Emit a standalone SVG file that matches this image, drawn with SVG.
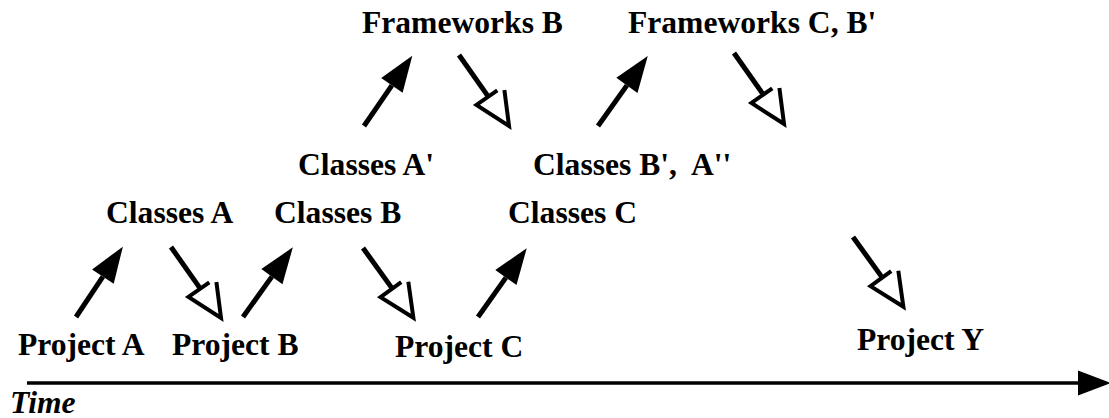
<svg xmlns="http://www.w3.org/2000/svg" width="1109" height="418" viewBox="0 0 1109 418">
<style>
.t{font-weight:bold;font-size:31.6px;fill:#000}
.it{font-style:italic}
.ln{stroke:#000;stroke-width:5;fill:none}
.opn{marker-end:url(#open)}
.sld{marker-end:url(#solid)}
</style>
<defs>
<marker id="solid" markerUnits="userSpaceOnUse" viewBox="-2 -16 40 32" refX="0" refY="0" markerWidth="40" markerHeight="32" orient="auto" overflow="visible">
<path d="M0,-13 L36,0 L0,13 Z" fill="#000"/>
</marker>
<marker id="open" markerUnits="userSpaceOnUse" viewBox="-4 -20 44 40" refX="0" refY="0" markerWidth="44" markerHeight="40" orient="auto" overflow="visible">
<path d="M3.8,-17 L36,0 L0,14.5 L0,-11" fill="#fff" stroke="#000" stroke-width="4" stroke-linejoin="miter"/>
</marker>
</defs>
<rect width="1109" height="418" fill="#fff"/>
<g id="connectors">
<line class="ln sld" x1="76" y1="317" x2="102.9" y2="276.6"/>
<line class="ln sld" x1="243" y1="317" x2="271.9" y2="276.6"/>
<line class="ln sld" x1="478" y1="317" x2="505.9" y2="277.6"/>
<line class="ln sld" x1="364" y1="126" x2="391.9" y2="85.4"/>
<line class="ln sld" x1="598" y1="126" x2="626.9" y2="85.4"/>
<line class="ln opn" x1="171" y1="247" x2="200.3" y2="288.6"/>
<line class="ln opn" x1="363" y1="248" x2="392.3" y2="288.6"/>
<line class="ln opn" x1="459" y1="55" x2="488.3" y2="96.6"/>
<line class="ln opn" x1="734" y1="53" x2="763.3" y2="94.6"/>
<line class="ln opn" x1="853" y1="237" x2="882.3" y2="277.6"/>
<g id="timeline">
<line x1="27" y1="383" x2="1080" y2="383" stroke="#000" stroke-width="3.3"/>
<polygon points="1078,370.5 1111,383 1078,395.5" fill="#000"/>
</g>
</g>
<g id="frameworks-b"><text class="t" font-family="Liberation Serif" x="362" y="33">Frameworks B</text></g>
<g id="frameworks-c-b2"><text class="t" font-family="Liberation Serif" x="628" y="33">Frameworks C, B'</text></g>
<g id="classes-a2"><text class="t" font-family="Liberation Serif" x="298" y="175">Classes A'</text></g>
<g id="classes-b2-a3"><text class="t" font-family="Liberation Serif" x="533" y="175" xml:space="preserve">Classes B',  A''</text></g>
<g id="classes-a"><text class="t" font-family="Liberation Serif" x="106" y="223">Classes A</text></g>
<g id="classes-b"><text class="t" font-family="Liberation Serif" x="274" y="223">Classes B</text></g>
<g id="classes-c"><text class="t" font-family="Liberation Serif" x="508" y="223">Classes C</text></g>
<g id="project-a"><text class="t" font-family="Liberation Serif" x="18" y="355">Project A</text></g>
<g id="project-b"><text class="t" font-family="Liberation Serif" x="172" y="355">Project B</text></g>
<g id="project-c"><text class="t" font-family="Liberation Serif" x="395" y="357">Project C</text></g>
<g id="project-y"><text class="t" font-family="Liberation Serif" x="857" y="350">Project Y</text></g>
<g id="time"><text class="t it" font-family="Liberation Serif" x="10" y="413">Time</text></g>
</svg>
